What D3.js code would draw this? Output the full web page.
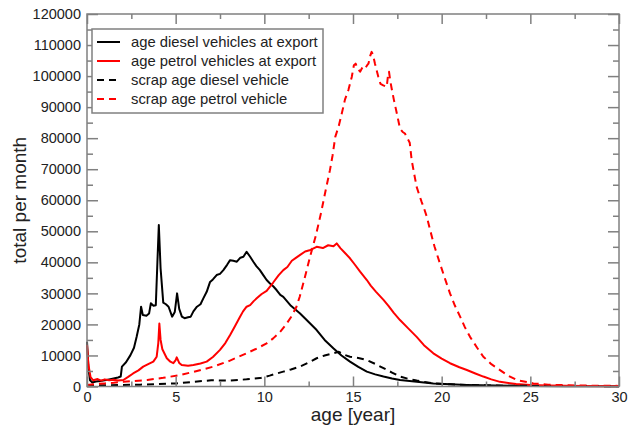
<!DOCTYPE html>
<html>
<head>
<meta charset="utf-8">
<script src="https://cdn.jsdelivr.net/npm/d3@7"></script>
<style>
  body { margin: 0; background: #fff; }
  text { font-family: "Liberation Sans", Arial, Helvetica, sans-serif; fill: #222; }
</style>
</head>
<body>
<script>
'use strict';

// [age in years, total per month]
var dieselExport = [[0,14400],[0.08,6000],[0.17,2000],[0.3,1300],[0.5,1600],[0.75,1800],[1.0,2000],[1.25,2300],[1.5,2600],[1.75,2900],[1.9,3200],[1.97,6400],[2.2,7800],[2.45,10100],[2.65,12500],[2.8,16000],[2.95,20000],[3.05,25700],[3.15,23000],[3.35,22800],[3.5,23500],[3.6,26800],[3.75,26000],[3.88,26200],[3.97,40000],[4.05,52000],[4.15,38000],[4.3,27000],[4.45,26500],[4.6,25700],[4.8,22500],[4.95,24000],[5.08,30000],[5.2,25000],[5.35,22500],[5.5,22000],[5.7,22300],[5.85,22500],[6.0,24200],[6.2,25700],[6.4,26500],[6.56,28400],[6.75,30500],[6.94,33700],[7.1,34500],[7.31,35900],[7.5,36300],[7.69,37500],[7.9,39200],[8.07,40700],[8.25,40500],[8.45,40200],[8.65,41500],[8.82,41800],[9.0,43400],[9.2,41800],[9.38,40200],[9.55,38800],[9.75,37500],[9.95,35800],[10.13,34300],[10.32,33200],[10.5,32300],[10.7,31000],[10.9,29500],[11.07,28900],[11.5,26000],[12.0,23600],[12.5,20800],[12.95,18200],[13.4,15000],[13.89,12300],[14.35,10000],[14.83,8000],[15.3,6300],[15.78,4800],[16.25,3900],[16.72,3200],[17.2,2600],[17.65,2100],[18.6,1500],[19.53,1000],[20.5,700],[21.4,500],[23,300],[25,200],[27,100],[30,50]];

var petrolExport = [[0,13400],[0.08,7000],[0.2,3000],[0.35,2000],[0.6,2400],[0.8,1900],[1.0,2300],[1.25,2000],[1.5,2200],[1.75,1900],[2.05,2100],[2.3,3000],[2.6,4200],[2.9,5200],[3.17,6400],[3.45,7200],[3.74,8000],[3.93,9600],[4.02,14000],[4.08,20300],[4.15,15000],[4.25,12000],[4.5,9100],[4.7,8000],[4.87,7500],[5.0,8500],[5.06,9400],[5.2,7600],[5.34,6900],[5.7,6700],[6.0,6900],[6.4,7400],[6.75,8000],[7.1,9500],[7.5,11800],[7.8,14000],[8.07,16600],[8.35,19500],[8.63,22500],[8.8,24200],[9.0,25700],[9.2,26200],[9.4,27500],[9.57,28400],[9.85,29800],[10.13,30800],[10.5,33500],[10.8,35800],[11.07,37500],[11.3,38500],[11.55,40500],[11.8,41500],[12.0,42300],[12.3,43500],[12.6,44000],[12.95,45000],[13.3,44600],[13.6,45500],[13.9,45200],[14.08,46100],[14.3,44500],[14.55,43000],[14.83,41300],[15.1,39300],[15.4,37000],[15.78,34300],[16.0,32500],[16.3,30500],[16.72,27900],[17.0,26000],[17.3,23700],[17.65,21400],[18.1,18800],[18.59,16000],[19.0,13300],[19.53,10700],[20.0,9000],[20.47,7500],[21.0,6200],[21.42,5300],[21.9,4200],[22.35,3200],[22.8,2300],[23.29,1500],[24.2,800],[25,500],[26,300],[28,150],[30,100]];

var dieselScrap = [[0,300],[1,400],[2,500],[3,600],[4,800],[5,1000],[6,1500],[7,2000],[8,1900],[9,2300],[9.75,2700],[10.3,3500],[10.7,4200],[11.07,4800],[11.5,5500],[12.0,6400],[12.5,7700],[12.95,9100],[13.4,10000],[13.89,10700],[14.2,11200],[14.46,10300],[14.83,9600],[15.3,9200],[15.78,8500],[16.25,7300],[16.72,5900],[17.2,4500],[17.65,3200],[18.1,2500],[18.59,1900],[19.53,1000],[20.5,700],[21.4,500],[23,300],[25,200],[27.5,150],[30,100]];

var petrolScrap = [[0,500],[0.5,800],[1,1000],[1.5,1200],[2.05,1500],[2.7,1800],[3.4,2100],[4.3,2800],[5.27,3700],[6.2,5000],[7.12,6400],[8.0,8200],[9.0,10700],[9.6,12300],[10.13,13900],[10.5,15500],[10.89,17600],[11.2,19800],[11.5,22300],[11.8,25500],[12.0,29000],[12.3,35500],[12.6,42300],[12.9,48500],[13.2,56000],[13.45,63000],[13.7,69700],[13.85,74500],[14.0,80400],[14.2,84000],[14.37,88000],[14.55,92500],[14.74,95500],[14.93,99700],[15.05,103500],[15.15,104000],[15.25,102500],[15.4,101400],[15.55,103000],[15.68,102500],[15.8,103500],[15.87,104000],[15.97,106500],[16.05,107800],[16.12,107000],[16.24,104000],[16.43,99700],[16.55,97500],[16.71,97000],[16.9,96500],[16.97,100000],[17.03,101400],[17.1,98500],[17.18,96000],[17.3,92500],[17.47,88000],[17.65,83100],[17.8,82000],[17.93,81500],[18.05,80000],[18.12,79400],[18.2,78500],[18.31,72900],[18.45,68500],[18.59,64300],[18.75,61500],[18.87,59500],[19.0,57500],[19.16,54700],[19.35,50400],[19.6,45000],[19.9,39700],[20.2,34500],[20.47,30000],[20.75,26000],[21.04,22500],[21.3,19200],[21.6,16000],[22.0,12500],[22.35,9600],[22.8,7200],[23.29,5300],[23.75,3500],[24.23,2100],[25.17,1000],[26,600],[27.05,400],[28.5,250],[30,200]];

var seriesNames = ["age diesel vehicles at export", "age petrol vehicles at export", "scrap age diesel vehicle", "scrap age petrol vehicle"];
var seriesData = [dieselExport, petrolExport, dieselScrap, petrolScrap];
var xTicks = [0, 5, 10, 15, 20, 25, 30];
var yTicks = [0, 10000, 20000, 30000, 40000, 50000, 60000, 70000, 80000, 90000, 100000, 110000, 120000];

var colors = ["#000", "#ff0000", "#000", "#ff0000"];
var dashes = [null, null, "7,5", "7,5"];

var svg = d3.select("body").append("svg")
    .attr("width", 628)
    .attr("height", 430);

var margin = {top: 14, right: 9, bottom: 43.5, left: 87},
    width = 628 - margin.left - margin.right,
    height = 430 - margin.top - margin.bottom;

var g = svg.append("g")
    .attr("transform", "translate(" + margin.left + "," + margin.top + ")");

var x = d3.scaleLinear().domain([0, 30]).range([0, width]);
var y = d3.scaleLinear().domain([0, 120000]).range([height, 0]);

// curves first, frame drawn on top
var line = d3.line()
    .x(function(d) { return x(d[0]); })
    .y(function(d) { return y(d[1]); });

seriesData.forEach(function(data, i) {
    g.append("path")
        .datum(data)
        .attr("fill", "none")
        .attr("stroke", colors[i])
        .attr("stroke-width", 2)
        .attr("stroke-linejoin", "round")
        .attr("stroke-dasharray", dashes[i])
        .attr("d", line);
});

var frameColor = "#808080";
var xMinor = d3.range(2.5, 30, 5);
var yMinor = d3.range(5000, 120000, 10000);

// inward ticks on all four sides
function tickAxis(axis, ticks, size) {
    return axis.tickValues(ticks).tickSize(size).tickFormat("");
}

g.append("g").attr("class", "axis")
    .attr("transform", "translate(0," + height + ")")
    .call(d3.axisBottom(x).tickValues(xTicks).tickSize(-10).tickPadding(5).tickFormat(d3.format("d")));
g.append("g").attr("class", "axis")
    .attr("transform", "translate(0," + height + ")")
    .call(tickAxis(d3.axisBottom(x), xMinor, -5));
g.append("g").attr("class", "axis")
    .call(tickAxis(d3.axisTop(x), xTicks, -10));
g.append("g").attr("class", "axis")
    .call(tickAxis(d3.axisTop(x), xMinor, -5));

g.append("g").attr("class", "axis")
    .call(d3.axisLeft(y).tickValues(yTicks).tickSize(-11).tickPadding(6).tickFormat(d3.format("d")));
g.append("g").attr("class", "axis")
    .call(tickAxis(d3.axisLeft(y), yMinor, -6));
g.append("g").attr("class", "axis")
    .attr("transform", "translate(" + width + ",0)")
    .call(tickAxis(d3.axisRight(y), yTicks, -11));
g.append("g").attr("class", "axis")
    .attr("transform", "translate(" + width + ",0)")
    .call(tickAxis(d3.axisRight(y), yMinor, -6));

g.selectAll(".axis .domain").remove();
g.selectAll(".axis line").attr("stroke", frameColor).attr("stroke-width", 1.5);
g.selectAll(".axis text").attr("font-size", 14.5).attr("fill", "#222")
    .style("font-family", "'Liberation Sans', Arial, sans-serif");

g.append("rect")
    .attr("width", width)
    .attr("height", height)
    .attr("fill", "none")
    .attr("stroke", frameColor)
    .attr("stroke-width", 1.5);

// axis titles
svg.append("text")
    .attr("x", margin.left + width / 2)
    .attr("y", 421)
    .attr("text-anchor", "middle")
    .attr("font-size", 19)
    .text("age [year]");

svg.append("text")
    .attr("transform", "translate(26," + (margin.top + height / 2) + ") rotate(-90)")
    .attr("text-anchor", "middle")
    .attr("font-size", 19)
    .text("total per month");

// legend
var legend = svg.append("g").attr("transform", "translate(92,29)");
legend.append("rect")
    .attr("width", 231)
    .attr("height", 84)
    .attr("fill", "#fff")
    .attr("stroke", frameColor)
    .attr("stroke-width", 1.5);

seriesNames.forEach(function(name, i) {
    var row = legend.append("g").attr("transform", "translate(0," + (13 + i * 19) + ")");
    row.append("line")
        .attr("x1", 5).attr("x2", 28)
        .attr("stroke", colors[i])
        .attr("stroke-width", 2)
        .attr("stroke-dasharray", dashes[i]);
    row.append("text")
        .attr("x", 39)
        .attr("dy", "0.35em")
        .attr("font-size", 14.8)
        .text(name);
});
</script>
</body>
</html>
